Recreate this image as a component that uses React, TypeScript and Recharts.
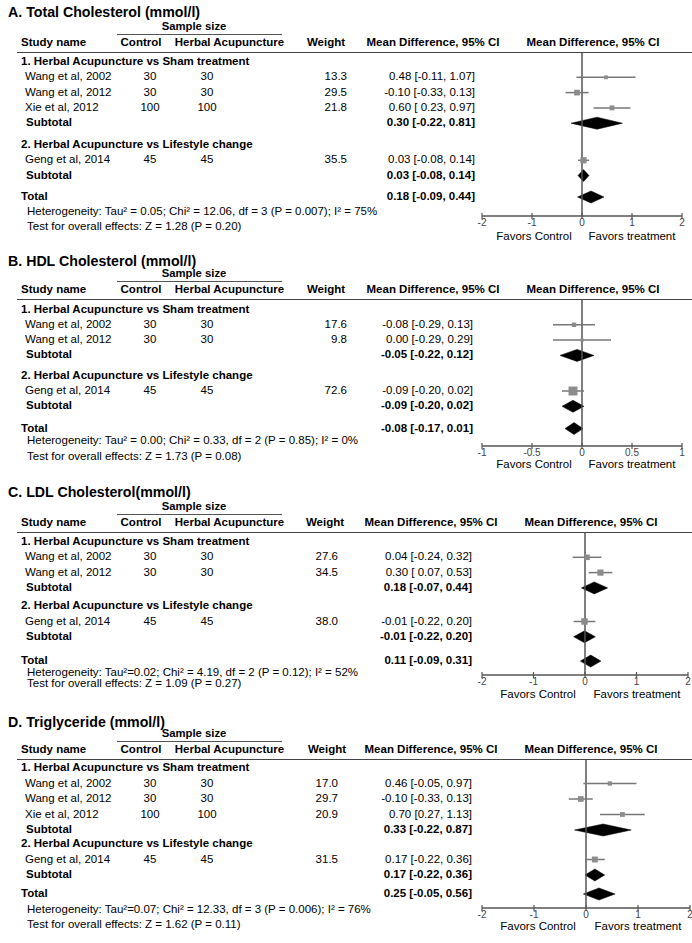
import React from 'react';
import { ComposedChart, Scatter, Area, XAxis, YAxis, ZAxis, ErrorBar, ReferenceLine } from 'recharts';

const FONT = "'Liberation Sans', Arial, Helvetica, sans-serif";

const groupNames = ['1. Herbal Acupuncture vs Sham treatment', '2. Herbal Acupuncture vs Lifestyle change'];

// ---------- Panel A ----------
const aTitle = 'A. Total Cholesterol (mmol/l)';
const aStudies = ['Wang et al, 2002', 'Wang et al, 2012', 'Xie et al, 2012', 'Geng et al, 2014'];
const aGroup = [1, 1, 1, 2];
const aControl = [30, 30, 100, 45];
const aHerbal = [30, 30, 100, 45];
const aWeight = [13.3, 29.5, 21.8, 35.5];
const aMd = [0.48, -0.1, 0.6, 0.03];
const aLo = [-0.11, -0.33, 0.23, -0.08];
const aHi = [1.07, 0.13, 0.97, 0.14];
const aCiText = ['0.48 [-0.11, 1.07]', '-0.10 [-0.33, 0.13]', '0.60 [ 0.23, 0.97]', '0.03 [-0.08, 0.14]'];
const aSubMd = [0.3, 0.03];
const aSubLo = [-0.22, -0.08];
const aSubHi = [0.81, 0.14];
const aSubText = ['0.30 [-0.22, 0.81]', '0.03 [-0.08, 0.14]'];
const aTotal = [0.18, -0.09, 0.44];
const aTotalText = '0.18 [-0.09, 0.44]';
const aHet = 'Heterogeneity: Tau\u00B2 = 0.05; Chi\u00B2 = 12.06, df = 3 (P = 0.007); I\u00B2 = 75%';
const aTest = 'Test for overall effects: Z = 1.28 (P = 0.20)';
const aTicks = [-2, -1, 0, 1, 2];

// ---------- Panel B ----------
const bTitle = 'B. HDL Cholesterol (mmol/l)';
const bStudies = ['Wang et al, 2002', 'Wang et al, 2012', 'Geng et al, 2014'];
const bGroup = [1, 1, 2];
const bControl = [30, 30, 45];
const bHerbal = [30, 30, 45];
const bWeight = [17.6, 9.8, 72.6];
const bMd = [-0.08, 0.0, -0.09];
const bLo = [-0.29, -0.29, -0.2];
const bHi = [0.13, 0.29, 0.02];
const bCiText = ['-0.08 [-0.29, 0.13]', '0.00 [-0.29, 0.29]', '-0.09 [-0.20, 0.02]'];
const bSubMd = [-0.05, -0.09];
const bSubLo = [-0.22, -0.2];
const bSubHi = [0.12, 0.02];
const bSubText = ['-0.05 [-0.22, 0.12]', '-0.09 [-0.20, 0.02]'];
const bTotal = [-0.08, -0.17, 0.01];
const bTotalText = '-0.08 [-0.17, 0.01]';
const bHet = 'Heterogeneity: Tau\u00B2 = 0.00; Chi\u00B2 = 0.33, df = 2 (P = 0.85); I\u00B2 = 0%';
const bTest = 'Test for overall effects: Z = 1.73 (P = 0.08)';
const bTicks = [-1, -0.5, 0, 0.5, 1];

// ---------- Panel C ----------
const cTitle = 'C. LDL Cholesterol(mmol/l)';
const cStudies = ['Wang et al, 2002', 'Wang et al, 2012', 'Geng et al, 2014'];
const cGroup = [1, 1, 2];
const cControl = [30, 30, 45];
const cHerbal = [30, 30, 45];
const cWeight = [27.6, 34.5, 38.0];
const cMd = [0.04, 0.3, -0.01];
const cLo = [-0.24, 0.07, -0.22];
const cHi = [0.32, 0.53, 0.2];
const cCiText = ['0.04 [-0.24, 0.32]', '0.30 [ 0.07, 0.53]', '-0.01 [-0.22, 0.20]'];
const cSubMd = [0.18, -0.01];
const cSubLo = [-0.07, -0.22];
const cSubHi = [0.44, 0.2];
const cSubText = ['0.18 [-0.07, 0.44]', '-0.01 [-0.22, 0.20]'];
const cTotal = [0.11, -0.09, 0.31];
const cTotalText = '0.11 [-0.09, 0.31]';
const cHet = 'Heterogeneity: Tau\u00B2=0.02; Chi\u00B2 = 4.19, df = 2 (P = 0.12); I\u00B2 = 52%';
const cTest = 'Test for overall effects: Z = 1.09 (P = 0.27)';
const cTicks = [-2, -1, 0, 1, 2];

// ---------- Panel D ----------
const dTitle = 'D. Triglyceride (mmol/l)';
const dStudies = ['Wang et al, 2002', 'Wang et al, 2012', 'Xie et al, 2012', 'Geng et al, 2014'];
const dGroup = [1, 1, 1, 2];
const dControl = [30, 30, 100, 45];
const dHerbal = [30, 30, 100, 45];
const dWeight = [17.0, 29.7, 20.9, 31.5];
const dMd = [0.46, -0.1, 0.7, 0.17];
const dLo = [-0.05, -0.33, 0.27, -0.02];
const dHi = [0.97, 0.13, 1.13, 0.36];
const dCiText = ['0.46 [-0.05, 0.97]', '-0.10 [-0.33, 0.13]', '0.70 [0.27, 1.13]', '0.17 [-0.22, 0.36]'];
const dSubMd = [0.33, 0.17];
const dSubLo = [-0.22, -0.02];
const dSubHi = [0.87, 0.36];
const dSubText = ['0.33 [-0.22, 0.87]', '0.17 [-0.22, 0.36]'];
const dTotal = [0.25, -0.05, 0.56];
const dTotalText = '0.25 [-0.05, 0.56]';
const dHet = 'Heterogeneity: Tau\u00B2=0.07; Chi\u00B2 = 12.33, df = 3 (P = 0.006); I\u00B2 = 76%';
const dTest = 'Test for overall effects: Z = 1.62 (P = 0.11)';
const dTicks = [-2, -1, 0, 1, 2];

const panels = [
  { title: aTitle, studies: aStudies, group: aGroup, control: aControl, herbal: aHerbal, weight: aWeight, md: aMd, lo: aLo, hi: aHi, ciText: aCiText, subMd: aSubMd, subLo: aSubLo, subHi: aSubHi, subText: aSubText, total: aTotal, totalText: aTotalText, het: aHet, test: aTest, ticks: aTicks },
  { title: bTitle, studies: bStudies, group: bGroup, control: bControl, herbal: bHerbal, weight: bWeight, md: bMd, lo: bLo, hi: bHi, ciText: bCiText, subMd: bSubMd, subLo: bSubLo, subHi: bSubHi, subText: bSubText, total: bTotal, totalText: bTotalText, het: bHet, test: bTest, ticks: bTicks },
  { title: cTitle, studies: cStudies, group: cGroup, control: cControl, herbal: cHerbal, weight: cWeight, md: cMd, lo: cLo, hi: cHi, ciText: cCiText, subMd: cSubMd, subLo: cSubLo, subHi: cSubHi, subText: cSubText, total: cTotal, totalText: cTotalText, het: cHet, test: cTest, ticks: cTicks },
  { title: dTitle, studies: dStudies, group: dGroup, control: dControl, herbal: dHerbal, weight: dWeight, md: dMd, lo: dLo, hi: dHi, ciText: dCiText, subMd: dSubMd, subLo: dSubLo, subHi: dSubHi, subText: dSubText, total: dTotal, totalText: dTotalText, het: dHet, test: dTest, ticks: dTicks },
];

// layout (positions only)
const layouts = [
  { hl: 53, pitch: 15.3, g1: 9, gap2: 6.5, gapT: 6.1, hetDy: 15, testDy: 30, axis: 163, plotRight: 682, titleDy: -41, favorsDy: 21, wRight: 347, mdRight: 475, weightHdr: 326, mdHdr: 433, plotHdr: 593, fc: 534, ft: 632 },
  { hl: 300, pitch: 15.3, g1: 9.5, gap2: 5, gapT: 7, hetDy: 12, testDy: 28, axis: 146, plotRight: 682, titleDy: -39, favorsDy: 18.5, wRight: 347, mdRight: 473, weightHdr: 326, mdHdr: 433, plotHdr: 593, fc: 534, ft: 632 },
  { hl: 533, pitch: 15.3, g1: 9, gap2: 3, gapT: 9, hetDy: 12, testDy: 23, axis: 142, plotRight: 688, titleDy: -41, favorsDy: 20, wRight: 338, mdRight: 472, weightHdr: 325, mdHdr: 431, plotHdr: 591, fc: 538, ft: 637 },
  { hl: 760, pitch: 15.5, g1: 8, gap2: -1.5, gapT: 3.5, hetDy: 16, testDy: 31, axis: 148, plotRight: 690, titleDy: -38, favorsDy: 19, wRight: 338, mdRight: 472, weightHdr: 327, mdHdr: 431, plotHdr: 591, fc: 538, ft: 638 },
];

const PLOT_LEFT = 482;

type TxtProps = { x: number; y: number; children: React.ReactNode; align?: 'left' | 'center' | 'right'; bold?: boolean; size?: number; color?: string };
const Txt = ({ x, y, children, align = 'left', bold = false, size = 11.5, color = '#000' }: TxtProps) => (
  <div
    style={{
      position: 'absolute',
      left: x,
      top: y,
      transform: `translate(${align === 'left' ? 0 : align === 'center' ? -50 : -100}%, -50%)`,
      fontSize: size,
      fontWeight: bold ? 700 : 400,
      lineHeight: 1,
      whiteSpace: 'nowrap',
      color,
      fontFamily: FONT,
    }}
  >
    {children}
  </div>
);

const AxisTick = (props: any) => {
  const { x, y, payload } = props;
  return (
    <g>
      <line x1={x} x2={x} y1={y - 3} y2={y + 3} stroke="#555" strokeWidth={1.2} />
      <text x={x} y={y + 10} textAnchor="middle" fontSize={10} fill="#444" fontFamily={FONT}>
        {String(payload.value)}
      </text>
    </g>
  );
};

function Panel({ d, L }: { d: any; L: any }) {
  const { hl, pitch, g1 } = L;
  const n1 = d.group.filter((g: number) => g === 1).length;
  const n2 = d.group.length - n1;
  const sub1Slot = n1 + 1;
  const g2Slot = n1 + 2 + L.gap2 / pitch;
  const sub2Slot = g2Slot + n2 + 1;
  const totalSlot = sub2Slot + 1 + L.gapT / pitch;
  let c1 = 0;
  let c2 = 0;
  const studySlot: number[] = d.group.map((g: number) => {
    if (g === 1) {
      c1 += 1;
      return c1;
    }
    c2 += 1;
    return g2Slot + c2;
  });
  const Y = (s: number) => hl + g1 + s * pitch;

  const studyPts = d.md.map((m: number, i: number) => ({
    x: m,
    y: studySlot[i],
    err: [m - d.lo[i], d.hi[i] - m],
    weight: d.weight[i],
  }));
  const h = 6 / pitch;
  const diamonds = [
    { md: d.subMd[0], lo: d.subLo[0], hi: d.subHi[0], s: sub1Slot },
    { md: d.subMd[1], lo: d.subLo[1], hi: d.subHi[1], s: sub2Slot },
    { md: d.total[0], lo: d.total[1], hi: d.total[2], s: totalSlot },
  ].map((q) => [
    { x: q.lo, y: [q.s, q.s] },
    { x: q.md, y: [q.s - h, q.s + h] },
    { x: q.hi, y: [q.s, q.s] },
  ]);

  const pad = 12;
  const plotW = L.plotRight - PLOT_LEFT;
  const yMin = -g1 / pitch;
  const yMax = (L.axis - g1) / pitch;
  const domain = [d.ticks[0], d.ticks[d.ticks.length - 1]];
  const tY = Y(totalSlot);

  return (
    <>
      <Txt x={8} y={hl + L.titleDy} bold size={14.2}>{d.title}</Txt>
      <Txt x={194} y={hl - 26.5} align="center" bold size={11.3}>Sample size</Txt>
      <div style={{ position: 'absolute', left: 117, top: hl - 18.75, width: 165, borderTop: '1.5px solid #555' }} />
      <Txt x={21} y={hl - 10} bold>Study name</Txt>
      <Txt x={141} y={hl - 10} align="center" bold>Control</Txt>
      <Txt x={229.5} y={hl - 10} align="center" bold>Herbal Acupuncture</Txt>
      <Txt x={L.weightHdr} y={hl - 10} align="center" bold>Weight</Txt>
      <Txt x={L.mdHdr} y={hl - 10} align="center" bold>Mean Difference, 95% CI</Txt>
      <Txt x={L.plotHdr} y={hl - 10} align="center" bold>Mean Difference, 95% CI</Txt>
      <div style={{ position: 'absolute', left: 17, top: hl - 0.75, width: 675, borderTop: '1.5px solid #444' }} />

      <Txt x={21} y={Y(0)} bold>{groupNames[0]}</Txt>
      <Txt x={21} y={Y(g2Slot)} bold>{groupNames[1]}</Txt>
      {d.studies.map((name: string, i: number) => (
        <React.Fragment key={name + i}>
          <Txt x={25} y={Y(studySlot[i])}>{name}</Txt>
          <Txt x={150} y={Y(studySlot[i])} align="center">{String(d.control[i])}</Txt>
          <Txt x={207} y={Y(studySlot[i])} align="center">{String(d.herbal[i])}</Txt>
          <Txt x={L.wRight} y={Y(studySlot[i])} align="right">{d.weight[i].toFixed(1)}</Txt>
          <Txt x={L.mdRight} y={Y(studySlot[i])} align="right">{d.ciText[i]}</Txt>
        </React.Fragment>
      ))}
      <Txt x={26} y={Y(sub1Slot)} bold>Subtotal</Txt>
      <Txt x={L.mdRight} y={Y(sub1Slot)} align="right" bold>{d.subText[0]}</Txt>
      <Txt x={26} y={Y(sub2Slot)} bold>Subtotal</Txt>
      <Txt x={L.mdRight} y={Y(sub2Slot)} align="right" bold>{d.subText[1]}</Txt>
      <Txt x={21} y={tY} bold>Total</Txt>
      <Txt x={L.mdRight} y={tY} align="right" bold>{d.totalText}</Txt>
      <Txt x={27} y={tY + L.hetDy}>{d.het}</Txt>
      <Txt x={27} y={tY + L.testDy}>{d.test}</Txt>

      <Txt x={L.fc} y={hl + L.axis + L.favorsDy} align="center">Favors Control</Txt>
      <Txt x={L.ft} y={hl + L.axis + L.favorsDy} align="center">Favors treatment</Txt>

      <div style={{ position: 'absolute', left: PLOT_LEFT - pad, top: hl }}>
        <ComposedChart width={plotW + 2 * pad} height={L.axis + 18} margin={{ top: 0, right: pad, bottom: 0, left: pad }}>
          <XAxis
            type="number"
            dataKey="x"
            domain={domain}
            ticks={d.ticks}
            interval={0}
            allowDataOverflow
            height={18}
            tickSize={0}
            tickMargin={0}
            tickLine={false}
            axisLine={{ stroke: '#555', strokeWidth: 1.5 }}
            tick={<AxisTick />}
          />
          <YAxis type="number" dataKey="y" domain={[yMin, yMax]} reversed hide allowDataOverflow />
          <ZAxis type="number" dataKey="weight" domain={[0, 100]} range={[0, 110]} />
          <ReferenceLine x={0} stroke="#555" strokeWidth={1.5} />
          {diamonds.map((pts, i) => (
            <Area
              key={'dm' + i}
              data={pts}
              dataKey="y"
              type="linear"
              stroke="#000"
              strokeWidth={0.5}
              fill="#000"
              fillOpacity={1}
              dot={false}
              activeDot={false}
              isAnimationActive={false}
            />
          ))}
          <Scatter data={studyPts} dataKey="y" shape="square" fill="#8c8c8c" isAnimationActive={false}>
            <ErrorBar dataKey="err" direction="x" width={0} stroke="#777" strokeWidth={1.5} />
          </Scatter>
        </ComposedChart>
      </div>
    </>
  );
}

export default function App() {
  return (
    <div style={{ position: 'absolute', left: 0, top: 0, width: 692, height: 943, background: '#fff', fontFamily: FONT, overflow: 'hidden' }}>
      {panels.map((d, i) => (
        <Panel key={i} d={d} L={layouts[i]} />
      ))}
    </div>
  );
}
